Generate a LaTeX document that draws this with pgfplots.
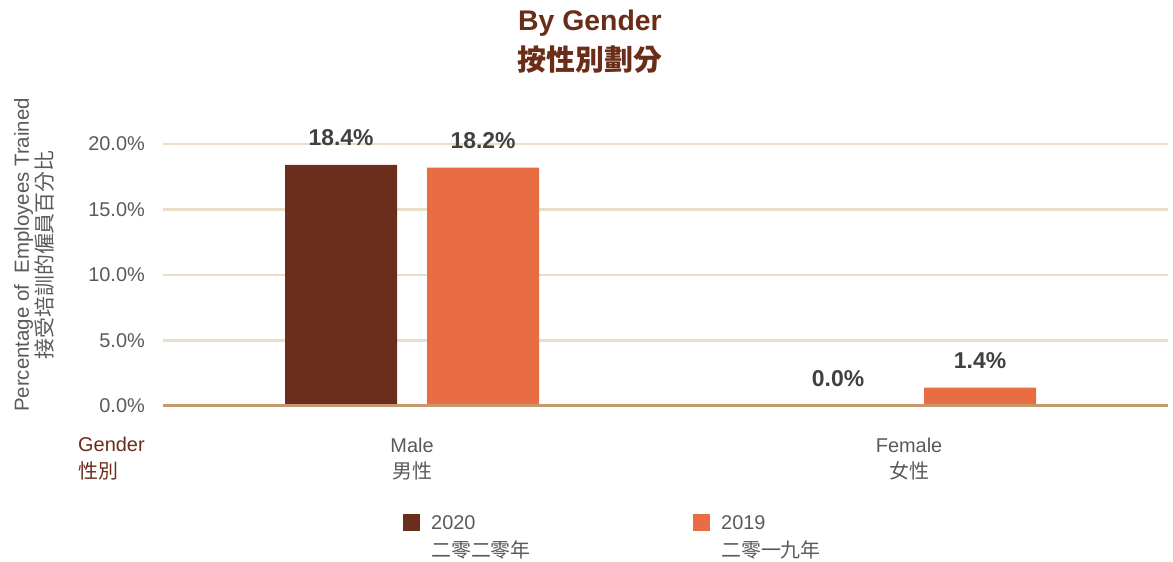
\documentclass[border=0pt]{standalone}
\usepackage{pgfplots}
\pgfplotsset{compat=1.18}
\usepackage{fontspec}
\setmainfont{Liberation Sans}
\newfontfamily\cjk{Noto Sans CJK TC}
\definecolor{c2020}{HTML}{6B2D1C}
\definecolor{c2019}{HTML}{E86D42}
\definecolor{gridc}{HTML}{EADDC9}
\definecolor{axc}{HTML}{C4986C}
\definecolor{txt}{HTML}{5A5A5A}
\definecolor{lbl}{HTML}{404040}
\definecolor{ttl}{HTML}{6B2D18}
\begin{document}
\begin{tikzpicture}[x=1bp,y=1bp]
\useasboundingbox (0,0) rectangle (1173,562);
\begin{axis}[
  at={(163bp,156bp)}, anchor=south west,
  scale only axis, width=1005bp, height=262bp,
  ybar=30bp, bar width=112bp,
  xmin=-0.501, xmax=1.521, ymin=0, ymax=20,
  clip=false,
  axis line style={draw=none},
  major tick length=0pt,
  ytick={0,5,10,15,20},
  ymajorgrids, grid style={gridc, line width=2.5bp},
  /pgf/number format/assume math mode=true,
  yticklabel={\pgfmathprintnumber[fixed,fixed zerofill,precision=1]{\tick}\%},
  yticklabel style={font=\fontsize{20}{24}\selectfont, color=txt, anchor=east, inner sep=0pt, xshift=-18bp},
  xtick={0,1},
  xticklabels={{Male\\{\cjk 男性}},{Female\\{\cjk 女性}}},
  xticklabel style={font=\fontsize{20}{25.5}\selectfont, color=txt, align=center, anchor=north, inner sep=0pt, yshift=-32bp},
  point meta=explicit,
  nodes near coords={\pgfmathprintnumber[fixed,fixed zerofill,precision=1]{\pgfplotspointmeta}\%},
  every node near coord/.append style={font=\bfseries\fontsize{23}{26}\selectfont, color=lbl, anchor=base, inner sep=0pt, yshift=19bp},
]
\addplot[fill=c2020, draw=none] coordinates {(0,18.4) [18.4] (1,0.0) [0.0]};
\addplot[fill=c2019, draw=none] coordinates {(0,18.2) [18.2] (1,1.4) [1.4]};
\draw[axc, line width=3bp] (rel axis cs:0,0) -- (rel axis cs:1,0);
\end{axis}
% title
\node[anchor=base, inner sep=0pt, color=ttl, font=\bfseries\fontsize{28.5}{32}\selectfont] at (590,531) {By Gender};
\node[anchor=base, inner sep=0pt, color=ttl, font=\bfseries\fontsize{29}{32}\selectfont] at (590,491) {\cjk 按性別劃分};
% y label
\node[rotate=90, align=center, color=txt, inner sep=0pt, font=\fontsize{20.5}{23.5}\selectfont] at (34,307) {Percentage of\ \ Employees Trained\\{\cjk\fontsize{21}{23.5}\selectfont 接受培訓的僱員百分比}};
% gender label
\node[anchor=base west, inner sep=0pt, color=ttl, font=\fontsize{20}{24}\selectfont] at (78,110) {Gender};
\node[anchor=base west, inner sep=0pt, color=ttl, font=\fontsize{20}{24}\selectfont] at (78,83) {\cjk 性別};
% legend
\fill[c2020] (403,31) rectangle (420,48);
\node[anchor=base west, inner sep=0pt, color=txt, font=\fontsize{20}{24}\selectfont] at (431,32) {2020};
\node[anchor=base west, inner sep=0pt, color=txt, font=\fontsize{20}{24}\selectfont] at (431,4) {\cjk 二零二零年};
\fill[c2019] (693,31) rectangle (710,48);
\node[anchor=base west, inner sep=0pt, color=txt, font=\fontsize{20}{24}\selectfont] at (721,32) {2019};
\node[anchor=base west, inner sep=0pt, color=txt, font=\fontsize{20}{24}\selectfont] at (721,4) {\cjk 二零一九年};
\end{tikzpicture}
\end{document}
